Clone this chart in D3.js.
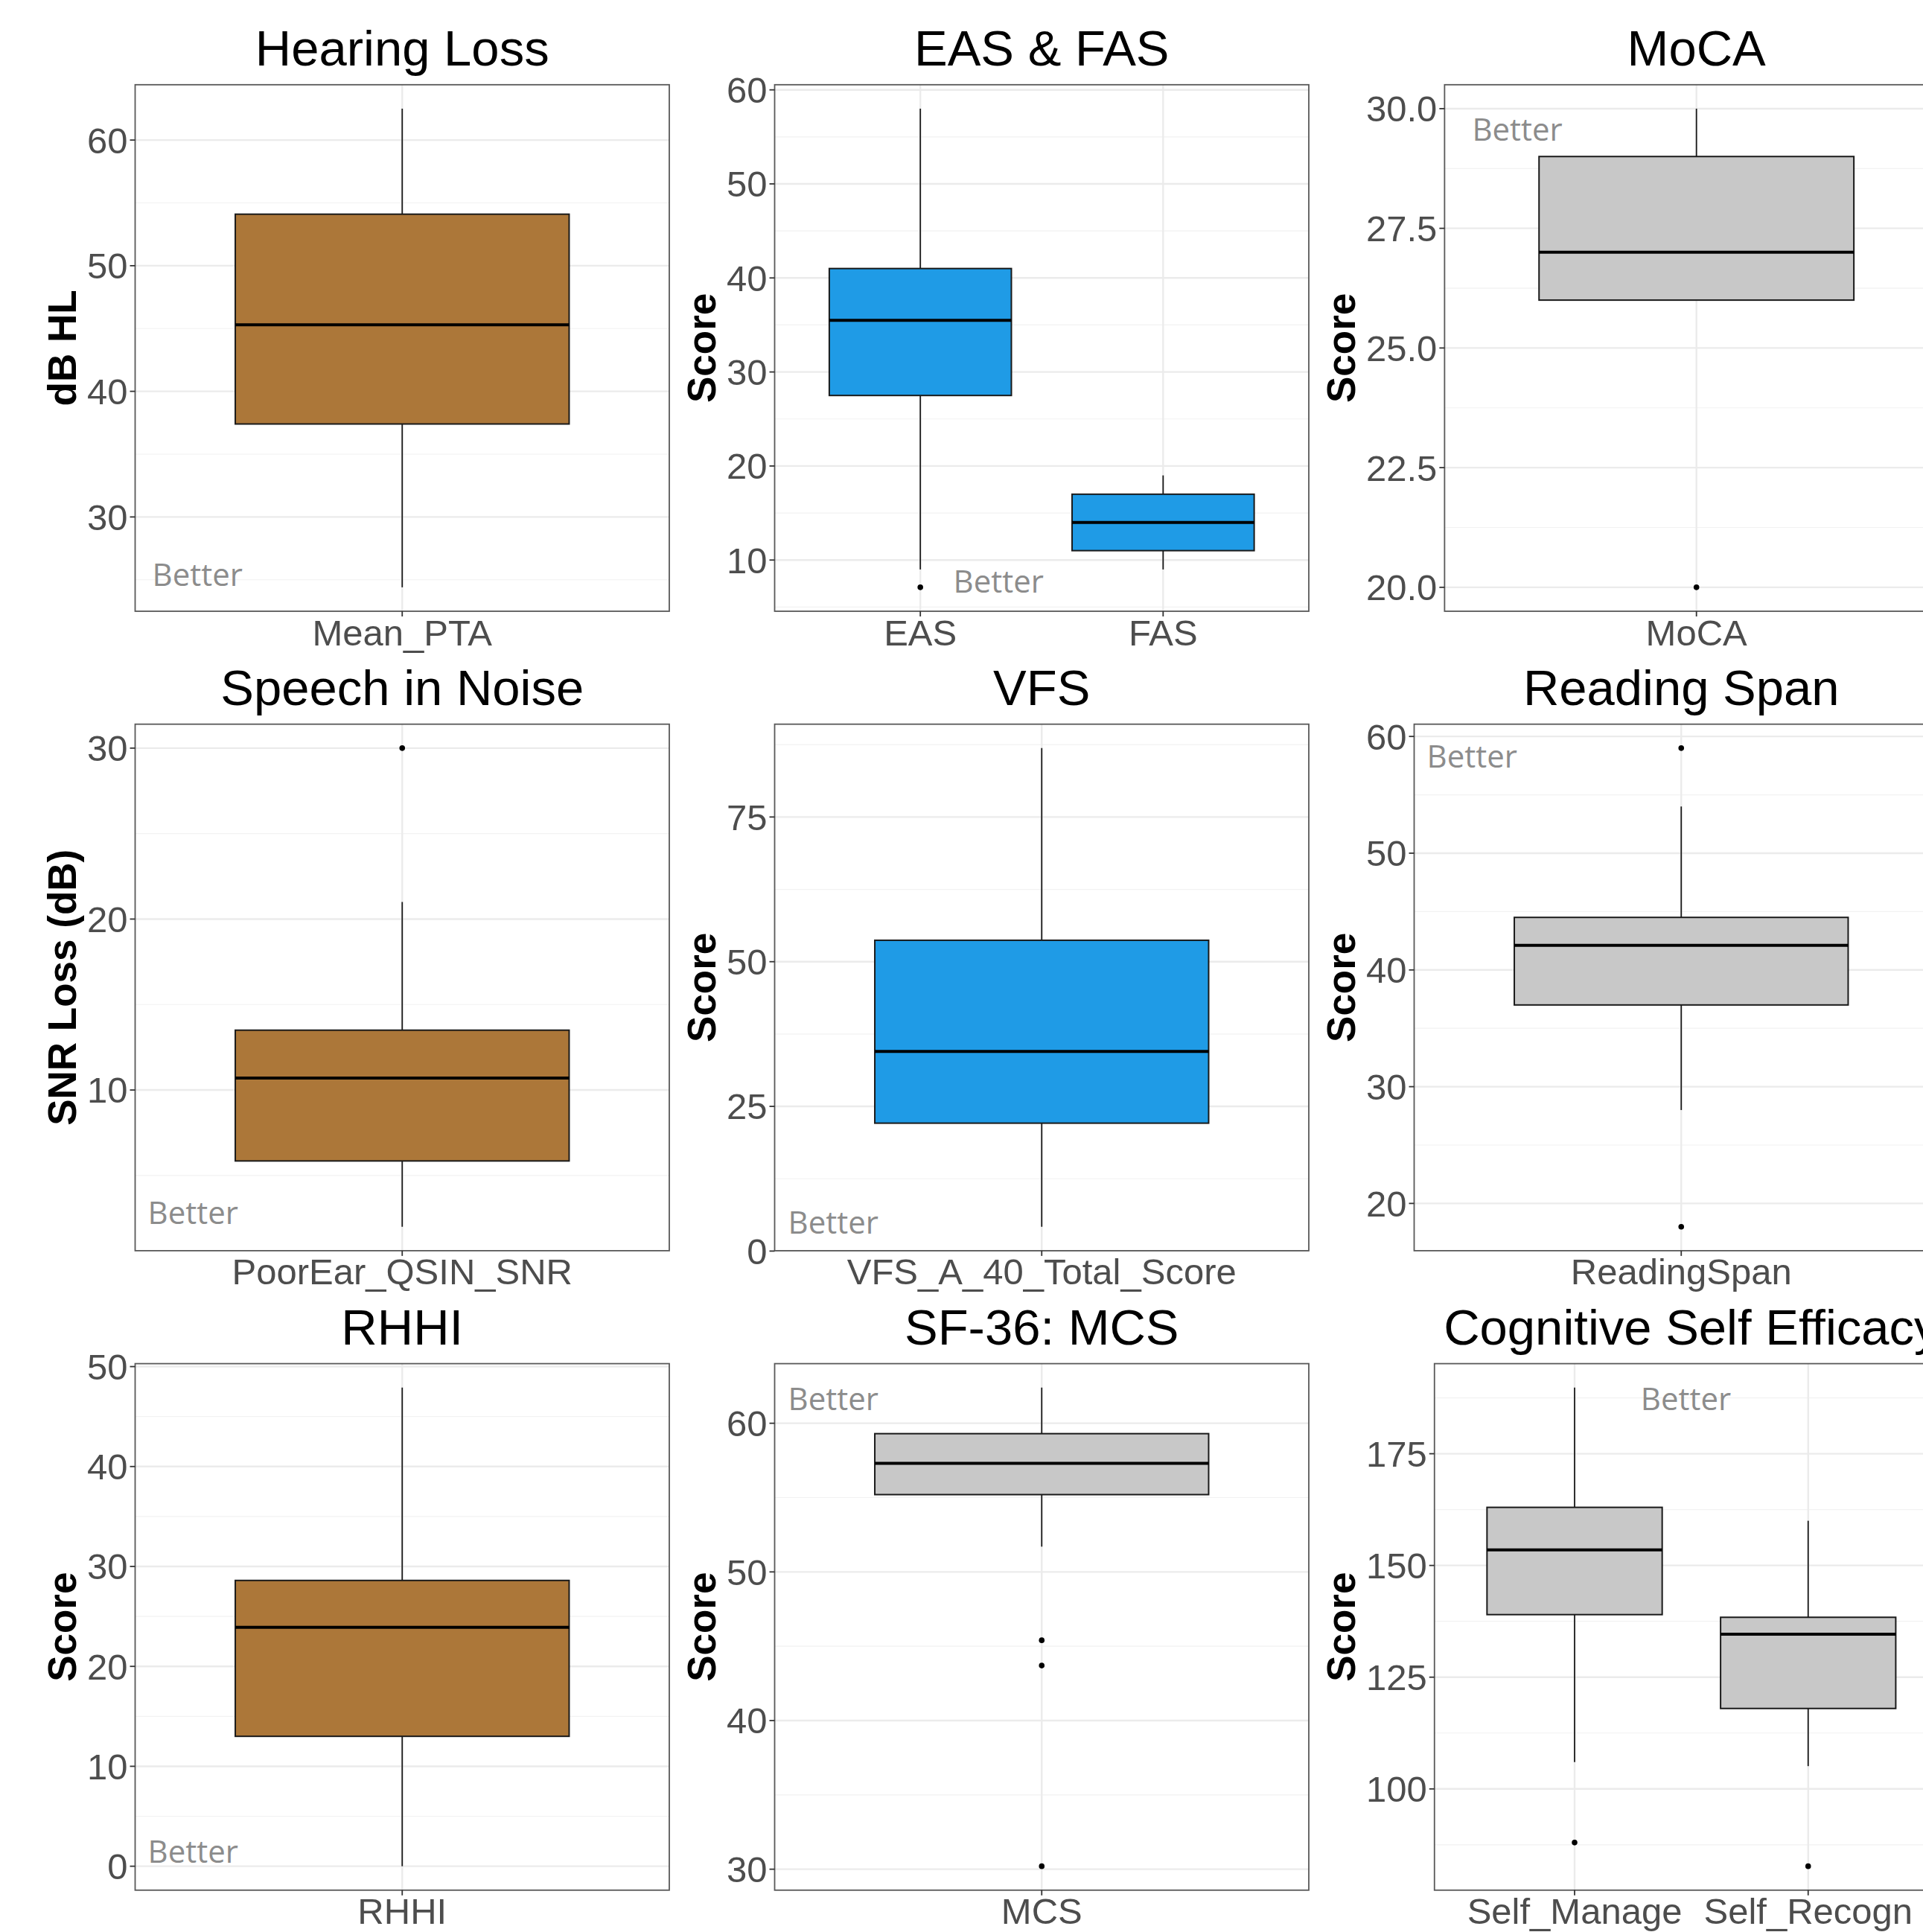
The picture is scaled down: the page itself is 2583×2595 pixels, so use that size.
<!DOCTYPE html>
<html>
<head>
<meta charset="utf-8">
<script src="https://cdn.jsdelivr.net/npm/d3@7"></script>
<style>
  html, body { margin: 0; padding: 0; background: #ffffff; }
  svg { display: block; }
</style>
</head>
<body>
<script>
// ---------------- DATA ----------------
const panelTitles = ["Hearing Loss", "EAS & FAS", "MoCA",
                     "Speech in Noise", "VFS", "Reading Span",
                     "RHHI", "SF-36: MCS", "Cognitive Self Efficacy"];
const yAxisTitles = ["dB HL", "Score", "Score",
                     "SNR Loss (dB)", "Score", "Score",
                     "Score", "Score", "Score"];
const categories = [["Mean_PTA"], ["EAS", "FAS"], ["MoCA"],
                    ["PoorEar_QSIN_SNR"], ["VFS_A_40_Total_Score"], ["ReadingSpan"],
                    ["RHHI"], ["MCS"], ["Self_Manage", "Self_Recogn"]];
const whiskerLow  = [[24.4], [9, 9],     [26],   [2.0],  [4.2],  [28],   [0],    [51.7], [106, 105.1]];
const q1Values    = [[37.4], [27.5, 11], [26],   [5.85], [22.1], [37],   [13],   [55.2], [139, 118]];
const medians     = [[45.3], [35.5, 14], [27],   [10.7], [34.5], [42.1], [23.9], [57.3], [153.5, 134.6]];
const q3Values    = [[54.1], [41, 17],   [29],   [13.5], [53.7], [44.5], [28.6], [59.3], [163, 138.4]];
const whiskerHigh = [[62.5], [58, 19],   [30],   [21],   [86.9], [54],   [47.9], [62.4], [189.8, 160]];
const outliers    = [[[]], [[7.1], []], [[20]],
                     [[30]], [[]], [[18, 59]],
                     [[]], [[45.4, 43.7, 30.2]], [[88], [82.7]]];
const yTicks = [[30, 40, 50, 60], [10, 20, 30, 40, 50, 60], [20, 22.5, 25, 27.5, 30],
                [10, 20, 30], [0, 25, 50, 75], [20, 30, 40, 50, 60],
                [0, 10, 20, 30, 40, 50], [30, 40, 50, 60], [100, 125, 150, 175]];
const yTickLabels = [["30", "40", "50", "60"], ["10", "20", "30", "40", "50", "60"],
                     ["20.0", "22.5", "25.0", "27.5", "30.0"],
                     ["10", "20", "30"], ["0", "25", "50", "75"], ["20", "30", "40", "50", "60"],
                     ["0", "10", "20", "30", "40", "50"], ["30", "40", "50", "60"],
                     ["100", "125", "150", "175"]];
const annotationText = "Better";

// ---------------- STYLE / LAYOUT ----------------
const boxFill = ["#AC7739", "#1F9BE6", "#C8C8C8",
                 "#AC7739", "#1F9BE6", "#C8C8C8",
                 "#AC7739", "#C8C8C8", "#C8C8C8"];
// "Better" label offsets relative to panel plot rect (left, top)
const betterPos = [[23, 673], [240, 682], [37, 75],
                   [17, 671], [18, 684], [17, 58],
                   [17, 670], [18, 62], [277, 62]];

const W = 2583, H = 2595;
const cellW = 859, cellH = 858.9;
const plotTopOff = 113.8, plotH = 707.2, plotRightOff = 899;
const yTitleBaseOff = 102;
const FONT = "'Liberation Sans', Arial, Helvetica, sans-serif";
const TICK_FS = 49, TITLE_FS = 67, AXIS_TITLE_FS = 53;

const svg = d3.select("body").append("svg")
  .attr("width", W).attr("height", H)
  .attr("viewBox", `0 0 ${W} ${H}`);
svg.append("rect").attr("width", W).attr("height", H).attr("fill", "#ffffff");

// measure label widths
const measurer = svg.append("text").attr("font-family", FONT).attr("font-size", TICK_FS);
function textW(s) { measurer.text(s); return measurer.node().getComputedTextLength(); }

panelTitles.forEach((title, i) => {
  const row = Math.floor(i / 3), col = i % 3;
  const cx = col * cellW, cy = row * cellH;
  const maxLabW = d3.max(yTickLabels[i], textW);
  const left = cx + yTitleBaseOff + 8 + maxLabW + 17;
  const right = cx + plotRightOff;
  const top = cy + plotTopOff;
  const bottom = top + plotH;

  const allVals = [].concat(...whiskerLow[i], ...whiskerHigh[i], ...outliers[i].flat());
  const lo = d3.min(allVals), hi = d3.max(allVals);
  const R = hi - lo;
  const y = d3.scaleLinear().domain([lo - 0.05 * R, hi + 0.05 * R]).range([bottom, top]);
  const x = d3.scalePoint().domain(categories[i]).range([left, right]).padding(0.6);
  const boxW = x.step() * 0.75;

  const g = svg.append("g");

  // minor gridlines
  const ticks = yTicks[i];
  const step = ticks[1] - ticks[0];
  const [dlo, dhi] = y.domain();
  const minors = [];
  for (let v = ticks[0] - step / 2; v <= ticks[ticks.length - 1] + step / 2 + 1e-9; v += step) {
    if (v >= dlo && v <= dhi) minors.push(v);
  }
  g.selectAll(".minor").data(minors).enter().append("line")
    .attr("x1", left).attr("x2", right)
    .attr("y1", d => y(d)).attr("y2", d => y(d))
    .attr("stroke", "#f2f2f2").attr("stroke-width", 1.2);
  // major gridlines
  g.selectAll(".major").data(ticks).enter().append("line")
    .attr("x1", left).attr("x2", right)
    .attr("y1", d => y(d)).attr("y2", d => y(d))
    .attr("stroke", "#ebebeb").attr("stroke-width", 2.4);
  g.selectAll(".vmajor").data(categories[i]).enter().append("line")
    .attr("x1", d => x(d)).attr("x2", d => x(d))
    .attr("y1", top).attr("y2", bottom)
    .attr("stroke", "#ebebeb").attr("stroke-width", 2.4);

  // boxes
  categories[i].forEach((cat, k) => {
    const xc = x(cat);
    // whiskers
    g.append("line").attr("x1", xc).attr("x2", xc)
      .attr("y1", y(whiskerHigh[i][k])).attr("y2", y(q3Values[i][k]))
      .attr("stroke", "#1a1a1a").attr("stroke-width", 1.8);
    g.append("line").attr("x1", xc).attr("x2", xc)
      .attr("y1", y(q1Values[i][k])).attr("y2", y(whiskerLow[i][k]))
      .attr("stroke", "#1a1a1a").attr("stroke-width", 1.8);
    // box
    g.append("rect")
      .attr("x", xc - boxW / 2).attr("width", boxW)
      .attr("y", y(q3Values[i][k])).attr("height", y(q1Values[i][k]) - y(q3Values[i][k]))
      .attr("fill", boxFill[i]).attr("stroke", "#1a1a1a").attr("stroke-width", 2);
    // median
    g.append("line")
      .attr("x1", xc - boxW / 2).attr("x2", xc + boxW / 2)
      .attr("y1", y(medians[i][k])).attr("y2", y(medians[i][k]))
      .attr("stroke", "#000000").attr("stroke-width", 4);
    // outliers
    g.selectAll(null).data(outliers[i][k]).enter().append("circle")
      .attr("cx", xc).attr("cy", d => y(d)).attr("r", 3.8)
      .attr("fill", "#000000");
  });

  // panel border
  g.append("rect").attr("x", left).attr("y", top)
    .attr("width", right - left).attr("height", bottom - top)
    .attr("fill", "none").attr("stroke", "#595959").attr("stroke-width", 1.8);

  // y axis ticks + labels
  g.selectAll(".ytick").data(ticks).enter().append("line")
    .attr("x1", left - 7).attr("x2", left)
    .attr("y1", d => y(d)).attr("y2", d => y(d))
    .attr("stroke", "#333333").attr("stroke-width", 1.8);
  g.selectAll(".ylab").data(ticks).enter().append("text")
    .attr("x", left - 10).attr("y", d => y(d))
    .attr("dy", "0.355em")
    .attr("text-anchor", "end")
    .attr("font-family", FONT).attr("font-size", TICK_FS)
    .attr("fill", "#4d4d4d")
    .text((d, j) => yTickLabels[i][j]);

  // x axis ticks + labels
  g.selectAll(".xtick").data(categories[i]).enter().append("line")
    .attr("x1", d => x(d)).attr("x2", d => x(d))
    .attr("y1", bottom).attr("y2", bottom + 7)
    .attr("stroke", "#333333").attr("stroke-width", 1.8);
  g.selectAll(".xlab").data(categories[i]).enter().append("text")
    .attr("x", d => x(d)).attr("y", bottom + 45.5)
    .attr("text-anchor", "middle")
    .attr("font-family", FONT).attr("font-size", TICK_FS)
    .attr("fill", "#4d4d4d")
    .text(d => d);

  // y axis title
  const ymid = (top + bottom) / 2;
  g.append("text")
    .attr("transform", `translate(${cx + yTitleBaseOff},${ymid}) rotate(-90)`)
    .attr("text-anchor", "middle")
    .attr("font-family", FONT).attr("font-size", AXIS_TITLE_FS)
    .attr("font-weight", "bold").attr("fill", "#000000")
    .text(yAxisTitles[i]);

  // panel title
  g.append("text")
    .attr("x", (left + right) / 2).attr("y", cy + 87.7)
    .attr("text-anchor", "middle")
    .attr("font-family", FONT).attr("font-size", TITLE_FS)
    .attr("fill", "#000000")
    .text(title);

  // "Better" annotation
  g.append("text")
    .attr("x", left + betterPos[i][0]).attr("y", top + betterPos[i][1])
    .attr("font-family", "'Open Sans', 'Noto Sans', sans-serif").attr("font-size", 42)
    .attr("fill", "#8c8c8c")
    .text(annotationText);
});
measurer.remove();
</script>
</body>
</html>
